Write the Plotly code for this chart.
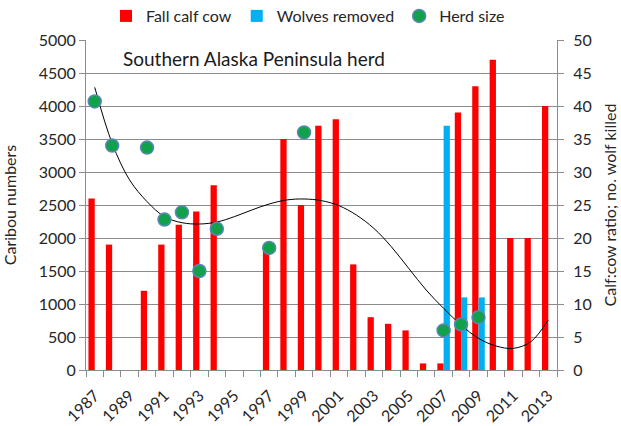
import plotly.graph_objects as go

years = list(range(1987, 2014))
calf_cow = [26, 19, None, 12, 19, 22, 24, 28, None, None, 18, 35, 25, 37, 38, 16, 8, 7, 6, 1, 1, 39, 43, 47, 20, 20, 40]
wolves = [None]*20 + [37, 11, 11] + [None]*4
herd_years = [1987, 1988, 1990, 1991, 1992, 1993, 1994, 1997, 1999, 2007, 2008, 2009]
herd_size = [4070, 3400, 3370, 2280, 2390, 1500, 2140, 1850, 3600, 600, 690, 800]
trend = [4283, 3434, 2879, 2551, 2323, 2232, 2212, 2242, 2323, 2424, 2515, 2576, 2591,
         2566, 2490, 2348, 2146, 1869, 1540, 1212, 934, 682, 480, 364, 328, 429, 758]

FONT = "Lato"
GRID = "#8c8c8c"
W, H = 621, 426

fig = go.Figure()
fig.add_trace(go.Bar(x=years, y=calf_cow, name="Fall calf cow", marker_color="#FF0000",
                     marker_line_width=0, yaxis="y"))
fig.add_trace(go.Bar(x=years, y=wolves, name="Wolves removed", marker_color="#00B0F0",
                     marker_line_width=0, yaxis="y"))
fig.add_trace(go.Scatter(x=years, y=trend, mode="lines", line=dict(color="black", width=1, shape="spline"),
                         showlegend=False, yaxis="y2", hoverinfo="skip"))
fig.add_trace(go.Scatter(x=herd_years, y=herd_size, mode="markers", name="Herd size",
                         marker=dict(color="#12A14B", size=13, line=dict(color="#5B86B8", width=1.5)),
                         yaxis="y2"))

fig.update_layout(
    width=W, height=H,
    margin=dict(l=86, r=64, t=40, b=56, autoexpand=False),
    paper_bgcolor="white", plot_bgcolor="white",
    font=dict(family=FONT, size=16, color="#262626"),
    barmode="group", bargap=0.28, bargroupgap=0,
    showlegend=True,
    legend=dict(orientation="h", x=308 / W, xanchor="center", xref="container",
                y=1 - 16 / H, yanchor="middle", yref="container",
                font=dict(size=16), itemwidth=30, traceorder="normal"),
    xaxis=dict(range=[1986.5, 2013.5], tickmode="array", tickvals=list(range(1987, 2014, 2)),
               ticktext=[str(y) for y in range(1987, 2014, 2)], tickangle=-45, ticks="",
               showgrid=False, showline=True, linecolor=GRID, linewidth=1, automargin=False,
               ticklabelstandoff=9,
               minor=dict(tickmode="array", tickvals=[y - 0.5 for y in range(1987, 2015)],
                          ticks="outside", ticklen=6, tickcolor=GRID, showgrid=False),
               tickfont=dict(size=16)),
    yaxis=dict(range=[0, 50], dtick=5, side="right", showgrid=True, gridcolor=GRID, gridwidth=1,
               showline=True, linecolor=GRID, ticks="outside", ticklen=6, tickcolor=GRID,
               ticklabelstandoff=6,
               title=dict(text="Calf:cow ratio; no. wolf killed", font=dict(size=16), standoff=14),
               zeroline=False, tickfont=dict(size=16), automargin=False),
    yaxis2=dict(range=[0, 5000], dtick=500, overlaying="y", side="left", showgrid=False,
                showline=True, linecolor=GRID, ticks="outside", ticklen=6, tickcolor=GRID,
                title=dict(text="Caribou numbers", font=dict(size=16), standoff=18),
                zeroline=False, tickfont=dict(size=16), automargin=False),
    annotations=[dict(text="Southern Alaska Peninsula herd", xref="paper", yref="paper",
                      x=(121 - 86) / 471, xanchor="left", y=(370 - 58) / 330, yanchor="middle",
                      showarrow=False, font=dict(size=19, color="#1a1a1a"))],
)

fig.write_html("out.html", config={"displayModeBar": False},
               post_script="document.body.style.margin='0px';")
